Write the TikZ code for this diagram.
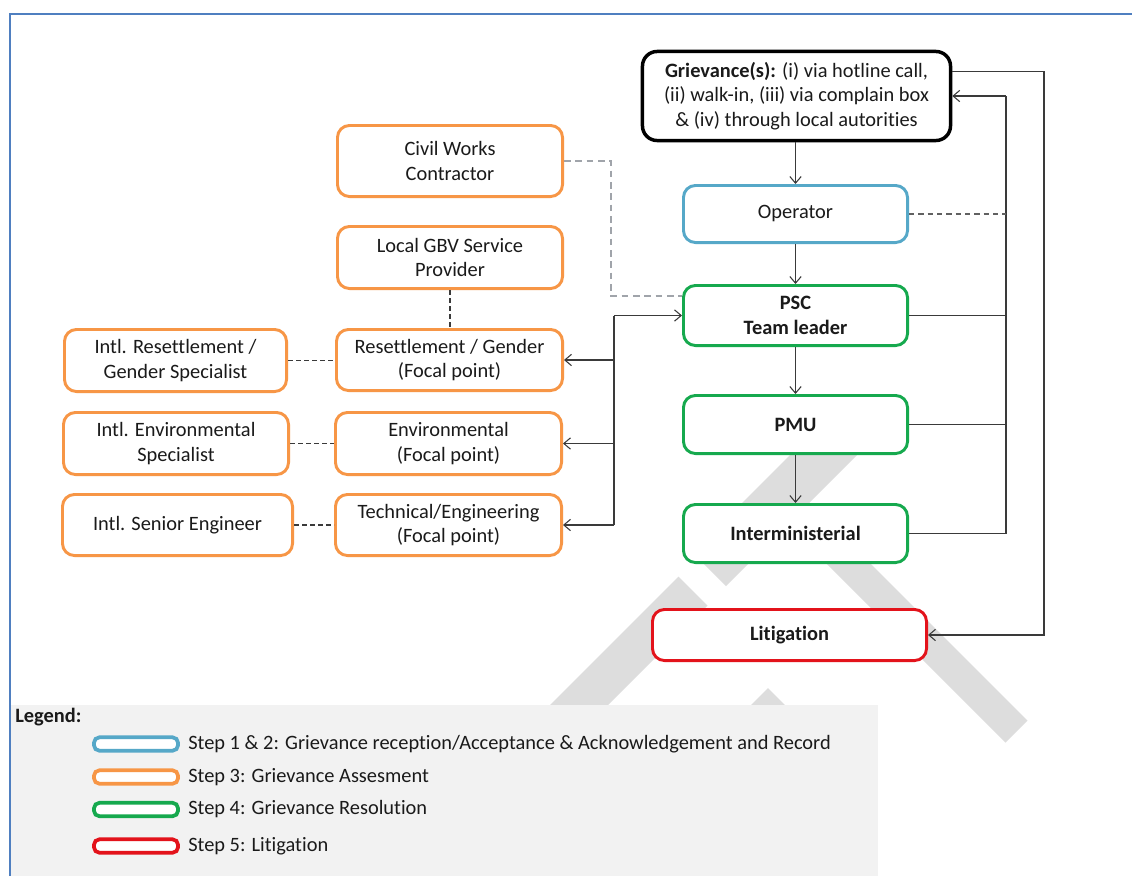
\documentclass[tikz,border=0pt]{standalone}
\usepackage{fontspec}
\setmainfont{Carlito}[Ligatures={NoCommon}]
\usetikzlibrary{arrows.meta,calc}
\definecolor{cOrange}{HTML}{F79646}
\definecolor{cGreen}{HTML}{16A94E}
\definecolor{cBlue}{HTML}{56A8C8}
\definecolor{cRed}{HTML}{E3131B}
\definecolor{cFrame}{HTML}{4F7FC0}
\definecolor{cLine}{HTML}{3A3A3A}
\definecolor{cGreyDash}{HTML}{A0A4AA}
\definecolor{cWater}{HTML}{DDDDDD}
\definecolor{cLegend}{HTML}{F2F2F2}
\definecolor{cText}{HTML}{1A1A1A}
\begin{document}
\begin{tikzpicture}[x=0.75pt,y=-0.75pt,
  box/.style={draw, rounded corners=9pt, line width=2.2pt, fill=white, align=center,
    inner sep=2pt, text=cText, font=\fontsize{15.3}{18.5}\selectfont},
  wh/.style 2 args={minimum width=#1*0.75pt-2.2pt, minimum height=#2*0.75pt-2.2pt},
  obox/.style={box, draw=cOrange},
  gbox/.style={box, draw=cGreen, font=\fontsize{15.3}{18.5}\selectfont\bfseries},
  bbox/.style={box, draw=cBlue},
  rbox/.style={box, draw=cRed, font=\fontsize{15.3}{18.5}\selectfont\bfseries},
  kbox/.style={box, draw=black, line width=2.6pt, rounded corners=11pt},
  conn/.style={draw=cLine, line width=0.8pt},
  arr/.style={conn, -{Straight Barb[length=5pt,width=8.5pt]}},
  dashconn/.style={conn, dash pattern=on 3.5pt off 2.5pt},
  opdash/.style={draw=cLine!80, line width=0.8pt, dash pattern=on 4pt off 3pt},
  greydash/.style={draw=cGreyDash, line width=1.2pt, dash pattern=on 5pt off 3.5pt},
  swatch/.style={draw, fill=white, rounded corners=4pt, line width=2.8pt, minimum width=63pt, minimum height=10pt, inner sep=0pt},
  legtext/.style={anchor=west, text=cText, inner sep=0pt, font=\fontsize{15.3}{18.5}\selectfont}
]
\useasboundingbox (0,0) rectangle (1132,876);
\fill[white] (0,0) rectangle (1132,876);
% frame
\draw[cFrame, line width=1.5pt] (10,876) -- (10,14) -- (1132,14);
% watermark
\fill[cWater] (832.5,412.5) -- (866,446) -- (726,586) -- (692.5,552.5) -- cycle;
\fill[cWater] (678.5,576.5) -- (707.5,605.5) -- (556.5,756.5) -- (527.5,727.5) -- cycle;
\fill[cWater] (781.5,518.5) -- (803.5,496.5) -- (1027.5,720.5) -- (1005.5,742.5) -- cycle;
\fill[cWater] (768,688) -- (796,716) -- (740,716) -- cycle;
% legend background
\fill[cLegend] (11,705) rectangle (878,876);

% right column
\node[kbox, wh={311}{92}] (griev) at (796.5,96) {\textbf{Grievance(s):} (i) via hotline call,\\(ii) walk-in, (iii) via complain box\\\& (iv) through local autorities};
\node[bbox, wh={227}{60}] (oper) at (795.5,214) {Operator};
\node[gbox, wh={227}{63}] (psc) at (795.5,315.5) {PSC\\Team leader};
\node[gbox, wh={227}{61}] (pmu) at (795.5,424.5) {PMU};
\node[gbox, wh={227}{61}] (inter) at (795.5,533.5) {Interministerial};
\node[rbox, wh={277}{54}] (litig) at (789.5,635) {Litigation};

% middle column
\node[obox, wh={228}{74}] (civil) at (450,161) {Civil Works\\Contractor};
\node[obox, wh={228}{65}] (gbv) at (450,257.5) {Local GBV Service\\Provider};
\node[obox, wh={229}{64}] (res) at (449.5,360) {Resettlement / Gender\\(Focal point)};
\node[obox, wh={229}{65}] (env) at (448.5,443.5) {Environmental\\(Focal point)};
\node[obox, wh={229}{64}] (tech) at (448.5,525) {Technical/Engineering\\(Focal point)};

% left column
\node[obox, wh={225}{65}] (ires) at (175.5,360.5) {Intl. Resettlement /\\Gender Specialist};
\node[obox, wh={228}{65}] (ienv) at (176,443.5) {Intl. Environmental\\Specialist};
\node[obox, wh={233}{64}] (ieng) at (177.5,525) {Intl. Senior Engineer};

% main vertical flow
\draw[arr] (oper.north |- griev.south) -- (oper.north);
\draw[arr] (oper.south) -- (psc.north);
\draw[arr] (psc.south) -- (pmu.north);
\draw[arr] (pmu.south) -- (inter.north);

% left bus
\path (psc.west) ++(-68,0) coordinate (busT);
\coordinate (busB) at (busT |- tech.east);
\draw[conn] (busT) -- (busB);
\draw[arr] (busT) -- (psc.west);
\draw[arr] (busT |- res.east) -- (res.east);
\draw[arr] (busT |- env.east) -- (env.east);
\draw[arr] (busB) -- (tech.east);

% dashed links
\draw[greydash] (civil.east) -- ++(47,0) |- ($(psc.west)+(0,-19.5)$);
\draw[dashconn] (gbv.south) -- (gbv.south |- res.north);
\draw[dashconn] (ires.east) -- (ires.east -| res.west);
\draw[dashconn] (ienv.east) -- (ienv.east -| env.west);
\draw[dashconn] (ieng.east) -- (ieng.east -| tech.west);

% right buses
\coordinate (rin) at (1006,0);
\coordinate (rout) at (1044,0);
\draw[conn] (griev.east -| rin) -- (inter.east -| rin);
\draw[arr] (griev.east -| rin) -- (griev.east);
\draw[opdash] (oper.east) -- (oper.east -| rin);
\draw[conn] (psc.east) -- (psc.east -| rin);
\draw[conn] (pmu.east) -- (pmu.east -| rin);
\draw[conn] (inter.east) -- (inter.east -| rin);
\coordinate (gout) at ($(griev.north east)!0.24!(griev.south east)$);
\draw[arr] (gout) -| (rout |- litig.east) -- (litig.east);

% legend
\node[anchor=west, inner sep=0pt, text=cText, font=\fontsize{15.3}{18.5}\selectfont\bfseries] (legtitle) at (15,717) {Legend:};
\node[swatch, draw=cBlue] (s1) at (136,744) {};
\node[swatch, draw=cOrange] (s2) at (136,777) {};
\node[swatch, draw=cGreen] (s3) at (136,809.5) {};
\node[swatch, draw=cRed] (s4) at (136,846) {};
\node[legtext] (l1) at (188,744) {Step 1 \& 2: Grievance reception/Acceptance \& Acknowledgement and Record};
\node[legtext] (l2) at (188,777) {Step 3: Grievance Assesment};
\node[legtext] (l3) at (188,809.5) {Step 4: Grievance Resolution};
\node[legtext] (l4) at (188,846) {Step 5: Litigation};
\end{tikzpicture}
\end{document}
